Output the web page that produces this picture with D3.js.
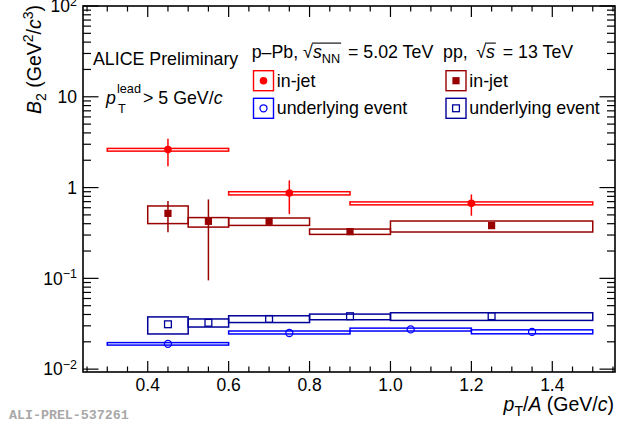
<!DOCTYPE html>
<html><head><meta charset="utf-8">
<script src="https://cdn.jsdelivr.net/npm/d3@7"></script>
<style>html,body{margin:0;padding:0;background:#fff;} svg{display:block;font-family:"Liberation Sans",Arial,sans-serif;} svg text{white-space:pre;}</style>
</head><body>
<svg id="c" width="617" height="429"></svg>
<script>
// ---------- data ----------
// p-Pb in-jet
const ppbJetX = [0.45, 0.75, 1.2];
const ppbJetBinLo = [0.3, 0.6, 0.9];
const ppbJetBinHi = [0.6, 0.9, 1.5];
const ppbJetY = [2.62, 0.87, 0.67];
const ppbJetErrLo = [1.72, 0.51, 0.49];
const ppbJetErrHi = [3.45, 1.20, 0.84];
const ppbJetSysLo = [2.52, 0.83, 0.645];
const ppbJetSysHi = [2.70, 0.90, 0.695];
// pp in-jet
const ppJetX = [0.45, 0.55, 0.7, 0.9, 1.25];
const ppJetBinLo = [0.4, 0.5, 0.6, 0.8, 1.0];
const ppJetBinHi = [0.5, 0.6, 0.8, 1.0, 1.5];
const ppJetY = [0.52, 0.425, 0.425, 0.327, 0.381];
const ppJetErrLo = [0.323, 0.095, 0.41, 0.32, 0.37];
const ppJetErrHi = [0.71, 0.74, 0.44, 0.335, 0.39];
const ppJetSysLo = [0.401, 0.367, 0.383, 0.305, 0.324];
const ppJetSysHi = [0.627, 0.467, 0.462, 0.349, 0.428];
// p-Pb underlying event
const ppbUeX = [0.45, 0.75, 1.05, 1.35];
const ppbUeBinLo = [0.3, 0.6, 0.9, 1.2];
const ppbUeBinHi = [0.6, 0.9, 1.2, 1.5];
const ppbUeY = [0.0190, 0.0250, 0.0274, 0.0257];
const ppbUeSysLo = [0.0184, 0.0244, 0.0263, 0.0245];
const ppbUeSysHi = [0.0196, 0.0263, 0.0283, 0.0271];
// pp underlying event
const ppUeX = [0.45, 0.55, 0.7, 0.9, 1.25];
const ppUeBinLo = [0.4, 0.5, 0.6, 0.8, 1.0];
const ppUeBinHi = [0.5, 0.6, 0.8, 1.0, 1.5];
const ppUeY = [0.0312, 0.0324, 0.0357, 0.0383, 0.0383];
const ppUeSysLo = [0.0244, 0.0291, 0.0326, 0.0350, 0.0344];
const ppUeSysHi = [0.0376, 0.0357, 0.0387, 0.0404, 0.0418];
// ticks
const xTickValues = [0.4, 0.6, 0.8, 1.0, 1.2, 1.4];
const xTickLabels = ['0.4', '0.6', '0.8', '1.0', '1.2', '1.4'];
const yTickValues = [0.01, 0.1, 1, 10, 100];
const yTickBase = ['10', '10', '1', '10', '10'];
const yTickExp = ['\u22122', '\u22121', '', '', '2'];

// ---------- layout ----------
const L = 83, R = 615, T = 6, B = 372;
const FS = 17.8, SFS = 12.7, TFS = 19.5, TSFS = 14;
const cRed = '#ff0000', cDRed = '#990000', cBlue = '#0000ff', cDBlue = '#000099';

const svg = d3.select('#c');
const x = d3.scaleLinear().domain([0.24, 1.555]).range([L, R]);
const y = d3.scaleLog().domain([0.0093, 100]).range([B, T]);

function rich(parent, px, py, segs, anchor, rot, baseFs) {
  const g = parent.append('g');
  let cx = 0; const boxes = [];
  segs.forEach(s => {
    const fs = s.fs || baseFs || FS;
    cx += (s.pre || 0);
    const t = g.append('text').attr('xml:space', 'preserve').attr('x', cx).attr('y', s.dy || 0)
      .attr('font-size', fs).attr('font-style', s.it ? 'italic' : 'normal')
      .attr('fill', s.fill || '#000').text(s.t);
    const w = t.node().getComputedTextLength();
    boxes.push({x: cx, w: w});
    cx += w + (s.gap || 0);
  });
  const off = anchor === 'end' ? -cx : anchor === 'middle' ? -cx / 2 : 0;
  g.attr('transform', `translate(${px},${py})` + (rot ? ` rotate(${rot})` : '') + ` translate(${off},0)`);
  return {g, boxes, width: cx};
}

// ---------- axes frame & ticks ----------
const ax = svg.append('g').attr('stroke', '#000').attr('stroke-width', 1.2);
const minorX = d3.range(5, 32).map(i => +(i * 0.05).toFixed(2)).filter(v => !xTickValues.some(m => Math.abs(m - v) < 1e-6));
xTickValues.forEach(v => {
  ax.append('line').attr('x1', x(v)).attr('x2', x(v)).attr('y1', B).attr('y2', B - 11);
  ax.append('line').attr('x1', x(v)).attr('x2', x(v)).attr('y1', T).attr('y2', T + 11);
});
minorX.forEach(v => {
  ax.append('line').attr('x1', x(v)).attr('x2', x(v)).attr('y1', B).attr('y2', B - 5.5);
  ax.append('line').attr('x1', x(v)).attr('x2', x(v)).attr('y1', T).attr('y2', T + 5.5);
});
const minorY = [];
[0.01, 0.1, 1, 10].forEach(d => { for (let k = 2; k <= 9; k++) minorY.push(d * k); });
minorY.filter(v => v >= 0.0093 && v <= 100).forEach(v => {
  ax.append('line').attr('x1', L).attr('x2', L + 8).attr('y1', y(v)).attr('y2', y(v));
  ax.append('line').attr('x1', R).attr('x2', R - 8).attr('y1', y(v)).attr('y2', y(v));
});
yTickValues.forEach(v => {
  ax.append('line').attr('x1', L).attr('x2', L + 15.5).attr('y1', y(v)).attr('y2', y(v));
  ax.append('line').attr('x1', R).attr('x2', R - 15.5).attr('y1', y(v)).attr('y2', y(v));
});
svg.append('rect').attr('x', L).attr('y', T).attr('width', R - L).attr('height', B - T)
  .attr('fill', 'none').attr('stroke', '#000').attr('stroke-width', 1.6);

// tick labels
xTickValues.forEach((v, i) => {
  svg.append('text').attr('x', x(v)).attr('y', 391).attr('text-anchor', 'middle')
    .attr('font-size', 17.5).text(xTickLabels[i]);
});
yTickValues.forEach((v, i) => {
  const segs = [{t: yTickBase[i], fs: 17.5}];
  if (yTickExp[i]) segs.push({t: yTickExp[i], fs: 12.5, dy: -6.5});
  rich(svg, 77, y(v) + 6.3, segs, 'end');
});

// axis titles
rich(svg, 614, 411, [
  {t: 'p', it: true}, {t: 'T', fs: TSFS, dy: 5}, {t: '/'}, {t: 'A', it: true},
  {t: ' (GeV/'}, {t: 'c', it: true}, {t: ')'}
], 'end', 0, TFS);
rich(svg, 41, 5, [
  {t: 'B', it: true}, {t: '2', fs: TSFS, dy: 5}, {t: ' (GeV'}, {t: '2', fs: TSFS, dy: -8},
  {t: '/'}, {t: 'c', it: true}, {t: '3', fs: TSFS, dy: -8}, {t: ')'}
], 'end', -90, TFS);

// ---------- data marks ----------
const plot = svg.append('g');
function sysBoxes(lo, hi, sLo, sHi, color, sw) {
  plot.append('g').selectAll('rect').data(lo).join('rect')
    .attr('x', (d, i) => x(lo[i])).attr('width', (d, i) => x(hi[i]) - x(lo[i]))
    .attr('y', (d, i) => y(sHi[i])).attr('height', (d, i) => Math.max(1, y(sLo[i]) - y(sHi[i])))
    .attr('fill', 'none').attr('stroke', color).attr('stroke-width', sw);
}
function errBars(xs, eLo, eHi, color) {
  plot.append('g').selectAll('line').data(xs).join('line')
    .attr('x1', d => x(d)).attr('x2', d => x(d))
    .attr('y1', (d, i) => y(eHi[i])).attr('y2', (d, i) => y(eLo[i]))
    .attr('stroke', color).attr('stroke-width', 1.5);
}
sysBoxes(ppbJetBinLo, ppbJetBinHi, ppbJetSysLo, ppbJetSysHi, cRed, 1.5);
sysBoxes(ppJetBinLo, ppJetBinHi, ppJetSysLo, ppJetSysHi, cDRed, 1.5);
sysBoxes(ppbUeBinLo, ppbUeBinHi, ppbUeSysLo, ppbUeSysHi, cBlue, 1.5);
sysBoxes(ppUeBinLo, ppUeBinHi, ppUeSysLo, ppUeSysHi, cDBlue, 1.5);
errBars(ppbJetX, ppbJetErrLo, ppbJetErrHi, cRed);
errBars(ppJetX, ppJetErrLo, ppJetErrHi, cDRed);

plot.append('g').selectAll('circle').data(ppbJetX).join('circle')
  .attr('cx', d => x(d)).attr('cy', (d, i) => y(ppbJetY[i])).attr('r', 3.8).attr('fill', cRed);
plot.append('g').selectAll('rect').data(ppJetX).join('rect')
  .attr('x', d => x(d) - 3.6).attr('y', (d, i) => y(ppJetY[i]) - 3.6).attr('width', 7.2).attr('height', 7.2).attr('fill', cDRed);
plot.append('g').selectAll('circle').data(ppbUeX).join('circle')
  .attr('cx', d => x(d)).attr('cy', (d, i) => y(ppbUeY[i])).attr('r', 3.5)
  .attr('fill', 'none').attr('stroke', cBlue).attr('stroke-width', 1.3);
plot.append('g').selectAll('rect').data(ppUeX).join('rect')
  .attr('x', d => x(d) - 3.4).attr('y', (d, i) => y(ppUeY[i]) - 3.4).attr('width', 6.8).attr('height', 6.8)
  .attr('fill', 'none').attr('stroke', cDBlue).attr('stroke-width', 1.3);

// ---------- legend / annotations ----------
svg.append('text').attr('x', 93).attr('y', 65).attr('font-size', FS).text('ALICE Preliminary');
// p_T^lead > 5 GeV/c
svg.append('text').attr('x', 106).attr('y', 104.3).attr('font-size', FS).attr('font-style', 'italic').text('p');
svg.append('text').attr('x', 117).attr('y', 93).attr('font-size', SFS).text('lead');
svg.append('text').attr('x', 118).attr('y', 112.5).attr('font-size', SFS).text('T');
rich(svg, 143, 104.3, [{t: '> 5 GeV/'}, {t: 'c', it: true}], 'start');

function header(px, py, pre, sub, post, preGap) {
  const segs = [{t: pre, gap: preGap}, {t: '\u221A'}, {t: 's', it: true}];
  if (sub) segs.push({t: sub, fs: SFS, dy: 5});
  segs[segs.length - 1].gap = 3;
  segs.push({t: post});
  const r = rich(svg, px, py, segs, 'start');
  const b0 = r.boxes[1], bEnd = r.boxes[sub ? 3 : 2];
  r.g.append('line').attr('x1', b0.x + b0.w - 1).attr('x2', bEnd.x + bEnd.w + 1)
    .attr('y1', -14.4).attr('y2', -14.4).attr('stroke', '#000').attr('stroke-width', 1.1);
}
header(251.7, 57.5, 'p\u2013Pb, ', 'NN', ' = 5.02 TeV', 0);
header(443, 57.5, 'pp, ', null, ' = 13 TeV', 3.5);

function legendEntry(bx, by, color, marker, label) {
  svg.append('rect').attr('x', bx).attr('y', by).attr('width', 20).attr('height', 20)
    .attr('fill', 'none').attr('stroke', color).attr('stroke-width', 1.4);
  const cx = bx + 10, cy = by + 10;
  if (marker === 'fc') svg.append('circle').attr('cx', cx).attr('cy', cy).attr('r', 3.8).attr('fill', color);
  if (marker === 'oc') svg.append('circle').attr('cx', cx).attr('cy', cy).attr('r', 3.5).attr('fill', 'none').attr('stroke', color).attr('stroke-width', 1.3);
  if (marker === 'fs') svg.append('rect').attr('x', cx - 3.6).attr('y', cy - 3.6).attr('width', 7.2).attr('height', 7.2).attr('fill', color);
  if (marker === 'os') svg.append('rect').attr('x', cx - 3.4).attr('y', cy - 3.4).attr('width', 6.8).attr('height', 6.8).attr('fill', 'none').attr('stroke', color).attr('stroke-width', 1.3);
  svg.append('text').attr('x', bx + 23.3).attr('y', by + 16).attr('font-size', FS).text(label);
}
legendEntry(253.5, 70.7, cRed, 'fc', 'in-jet');
legendEntry(253.5, 98.3, cBlue, 'oc', 'underlying event');
legendEntry(446, 70.7, cDRed, 'fs', 'in-jet');
legendEntry(446, 98.3, cDBlue, 'os', 'underlying event');

svg.append('text').attr('x', 9).attr('y', 419).attr('font-family', '"Liberation Mono", "DejaVu Sans Mono", monospace')
  .attr('font-weight', 'bold').attr('font-size', 13.3).attr('fill', '#a8a8a8').text('ALI-PREL-537261');
</script>
</body></html>
